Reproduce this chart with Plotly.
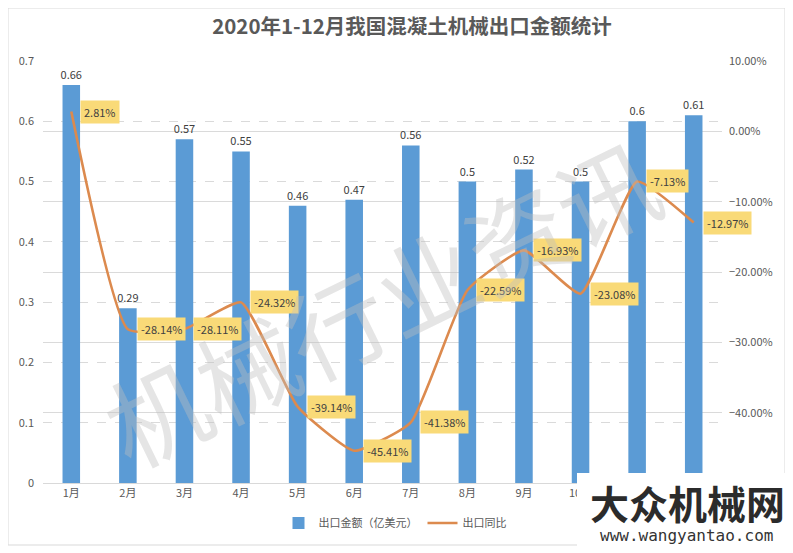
import plotly.graph_objects as go

months = ["1月", "2月", "3月", "4月", "5月", "6月", "7月", "8月", "9月", "10月", "11月", "12月"]
export_value = [0.66, 0.29, 0.57, 0.55, 0.46, 0.47, 0.56, 0.5, 0.52, 0.5, 0.6, 0.61]
yoy_pct = [2.81, -28.14, -28.11, -24.32, -39.14, -45.41, -41.38, -22.59, -16.93, -23.08, -7.13, -12.97]
left_ticks = [0, 0.1, 0.2, 0.3, 0.4, 0.5, 0.6, 0.7]
left_tick_text = ["0", "0.1", "0.2", "0.3", "0.4", "0.5", "0.6", "0.7"]
title_text = "2020年1-12月我国混凝土机械出口金额统计"
bar_name = "出口金额（亿美元）"
line_name = "出口同比"

yoy = [v / 100 for v in yoy_pct]

# page body adds an 8px margin; lay out in window pixels and convert
OFF = 8
WIN_W, WIN_H = 793, 553
W, H = WIN_W - OFF, WIN_H - OFF
PL, PR, PT, PB = 43, 722, 61, 483  # plot area in window pixels
L, R, T, B = PL - OFF, (WIN_W - PR) - 0, PT - OFF, (WIN_H - PB)
R = W - (PR - OFF)
B = H - (PB - OFF)
pw, ph = PR - PL, PB - PT


def px(x):
    return (x - PL) / pw


def py(y):
    return (PB - y) / ph


FONT = "Noto Sans CJK SC, Noto Sans, sans-serif"
GREY = "#595959"

fig = go.Figure()
fig.add_trace(go.Bar(
    x=months, y=export_value, name=bar_name,
    marker=dict(color="#5B9BD5", line=dict(width=0)),
    width=0.31,
    text=[f"{v:g}" for v in export_value], textposition="outside",
    textfont=dict(size=11, color="#404040", family=FONT),
    constraintext="none",
    cliponaxis=False,
))
fig.add_trace(go.Scatter(
    x=months, y=yoy, name=line_name, yaxis="y2", mode="lines",
    line=dict(color="#DC8A4E", width=2.6, shape="spline", smoothing=0.45),
))

annotations = []
for m, v, p in zip(months, yoy, yoy_pct):
    annotations.append(dict(
        x=m, y=v, xref="x", yref="y2", text=f"{p:.2f}%", showarrow=False,
        xanchor="left", yanchor="middle", xshift=9,
        bgcolor="#F9DA78", borderpad=3,
        font=dict(size=11, color="#404040", family=FONT),
    ))

# watermark
annotations.append(dict(
    x=px(380), y=py(300), xref="paper", yref="paper", text="机械行业资讯",
    showarrow=False, textangle=-26,
    font=dict(size=100, color="rgba(190,190,190,0.4)", family=FONT),
))
# logo text
annotations.append(dict(
    x=px(687), y=py(502), xref="paper", yref="paper", text="<b>大众机械网</b>",
    showarrow=False, xanchor="center", yanchor="middle",
    font=dict(size=39, color="#2b2b2b", family="Noto Sans CJK SC"),
))
annotations.append(dict(
    x=px(686), y=py(535), xref="paper", yref="paper", text="www.wangyantao.com",
    showarrow=False, xanchor="center", yanchor="middle",
    font=dict(size=16, color="#333333", family="DejaVu Sans Mono"),
))

shapes = [
    dict(type="rect", xref="paper", yref="paper",
         x0=px(8), x1=px(785), y0=py(545), y1=py(8),
         line=dict(color="#D9D9D9", width=1), fillcolor="rgba(0,0,0,0)", layer="below"),
    dict(type="rect", xref="paper", yref="paper",
         x0=px(577), x1=px(800), y0=py(560), y1=py(473),
         line=dict(width=0), fillcolor="white", layer="above"),
]

fig.update_layout(
    width=W, height=H,
    margin=dict(l=PL - OFF, r=R, t=PT - OFF, b=B, autoexpand=False),
    paper_bgcolor="white", plot_bgcolor="white",
    font=dict(family=FONT, size=11, color=GREY),
    title=dict(text=f"<b>{title_text}</b>", x=px(412), xref="paper", xanchor="center",
               y=1 - (27 - OFF) / H, yanchor="middle",
               font=dict(size=20.5, color=GREY, family=FONT)),
    xaxis=dict(type="category", showgrid=False, showline=True, linecolor="#D9D9D9",
               ticks="", tickfont=dict(size=11, color=GREY), range=[-0.5, 11.5]),
    yaxis=dict(range=[0, 0.7], tickvals=left_ticks, ticktext=left_tick_text,
               showgrid=True, gridcolor="#DADADA",
               griddash="dash", gridwidth=1, zeroline=False, ticks="",
               tickfont=dict(size=11, color=GREY), ticklabelstandoff=8),
    yaxis2=dict(range=[-0.5, 0.1], dtick=0.1, overlaying="y", side="right",
                tickformat=".2%", showgrid=True, gridcolor="#DADADA", gridwidth=1,
                zeroline=False, ticks="", tickfont=dict(size=11, color=GREY),
                ticklabelstandoff=6),
    legend=dict(orientation="h", x=px(395), y=py(523), xanchor="center", yanchor="middle",
                font=dict(size=11, color=GREY), traceorder="normal",
                itemwidth=30, bgcolor="rgba(0,0,0,0)"),
    annotations=annotations,
    shapes=shapes,
    showlegend=True,
)

fig.write_html("out.html")
